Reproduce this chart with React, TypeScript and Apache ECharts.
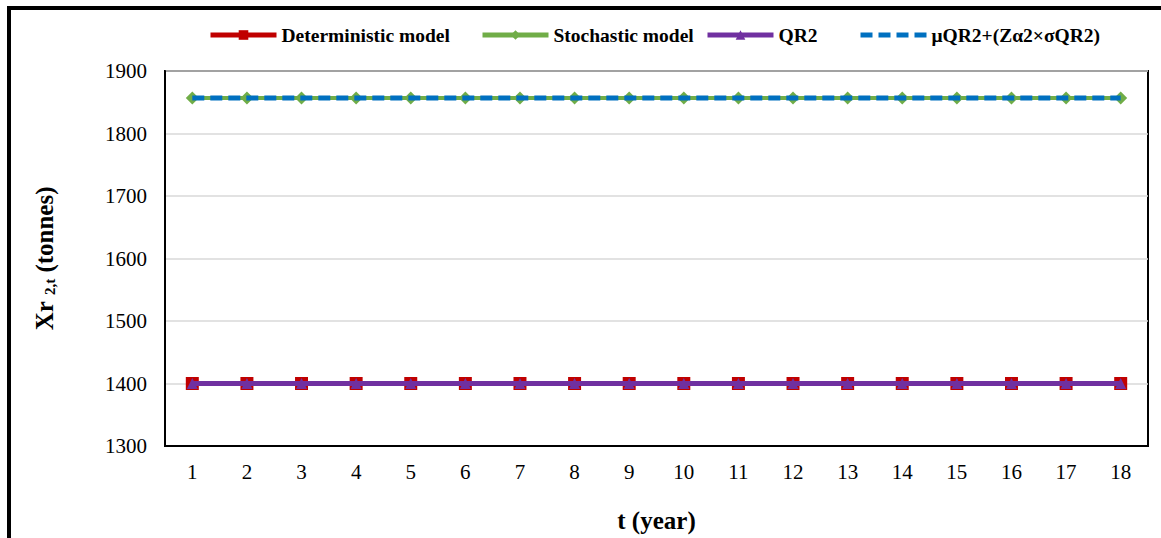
import React, { useEffect, useRef } from "react";
import * as echarts from "echarts";

const categories = ["1", "2", "3", "4", "5", "6", "7", "8", "9", "10", "11", "12", "13", "14", "15", "16", "17", "18"];
const deterministic = [1400, 1400, 1400, 1400, 1400, 1400, 1400, 1400, 1400, 1400, 1400, 1400, 1400, 1400, 1400, 1400, 1400, 1400];
const stochastic = [1857, 1857, 1857, 1857, 1857, 1857, 1857, 1857, 1857, 1857, 1857, 1857, 1857, 1857, 1857, 1857, 1857, 1857];
const qr2 = [1400, 1400, 1400, 1400, 1400, 1400, 1400, 1400, 1400, 1400, 1400, 1400, 1400, 1400, 1400, 1400, 1400, 1400];
const upperQR2 = [1857, 1857, 1857, 1857, 1857, 1857, 1857, 1857, 1857, 1857, 1857, 1857, 1857, 1857, 1857, 1857, 1857, 1857];
const seriesNames = ["Deterministic model", "Stochastic model", "QR2", "μQR2+(Zα2×σQR2)"];
const legendLefts = [208, 480, 705, 858];

const FONT = "'Liberation Serif', 'Times New Roman', serif";

export default function App() {
  const ref = useRef<HTMLDivElement>(null);
  useEffect(() => {
    if (!ref.current) return;
    const chart = echarts.init(ref.current, undefined, { renderer: "svg" });
    chart.setOption({
      animation: false,
      backgroundColor: "#fff",
      textStyle: { fontFamily: FONT },
      graphic: [
        { type: "rect", shape: { x: 7, y: 6, width: 1154, height: 4 }, style: { fill: "#000" } },
        { type: "rect", shape: { x: 7, y: 6, width: 4, height: 532 }, style: { fill: "#000" } },
      ],
      legend: seriesNames.map((n, i) => ({
        top: 25,
        left: legendLefts[i],
        padding: 0,
        itemWidth: 66,
        itemHeight: 12,
        lineStyle: { width: 5 },
        textStyle: { fontFamily: FONT, fontSize: 19.5, fontWeight: "bold", color: "#000" },
        data: [i === 3 ? { name: n, itemStyle: { color: "transparent", borderWidth: 0 } } : n],
      })),
      grid: {
        left: 165,
        right: 13,
        top: 71,
        bottom: 90,
        show: true,
        borderColor: "#000",
        borderWidth: 2,
      },
      xAxis: {
        type: "category",
        data: categories,
        boundaryGap: true,
        name: "t (year)",
        nameLocation: "middle",
        nameGap: 62,
        nameTextStyle: { fontFamily: FONT, fontSize: 25, fontWeight: "bold", color: "#000" },
        axisLine: { lineStyle: { color: "#000", width: 2 } },
        axisTick: { show: false },
        axisLabel: { fontFamily: FONT, fontSize: 21, color: "#000", margin: 15 },
      },
      yAxis: {
        type: "value",
        min: 1300,
        max: 1900,
        interval: 100,
        name: "{a|Xr }{b|2,t}{a| (tonnes)}",
        nameLocation: "middle",
        nameGap: 108,
        nameRotate: 90,
        nameTextStyle: {
          rich: {
            a: { fontFamily: FONT, fontSize: 25, fontWeight: "bold", color: "#000" },
            b: { fontFamily: FONT, fontSize: 15, fontWeight: "bold", color: "#000", verticalAlign: "bottom", padding: [9, 0, 0, 0] },
          },
        },
        axisLine: { show: true, lineStyle: { color: "#000", width: 2 } },
        axisTick: { show: false },
        axisLabel: { fontFamily: FONT, fontSize: 21, color: "#000", margin: 18, formatter: (v: number) => String(v) },
        splitLine: { lineStyle: { color: "#d9d9d9", width: 1.5 } },
      },
      series: [
        {
          name: seriesNames[0],
          type: "line",
          data: deterministic,
          symbol: "rect",
          symbolSize: 13,
          lineStyle: { color: "#c00000", width: 4 },
          itemStyle: { color: "#c00000" },
          z: 2,
        },
        {
          name: seriesNames[1],
          type: "line",
          data: stochastic,
          symbol: "diamond",
          symbolSize: 13,
          lineStyle: { color: "#70ad47", width: 4 },
          itemStyle: { color: "#70ad47" },
          z: 2,
        },
        {
          name: seriesNames[2],
          type: "line",
          data: qr2,
          symbol: "triangle",
          symbolSize: 11,
          lineStyle: { color: "#7030a0", width: 5 },
          itemStyle: { color: "#7030a0" },
          z: 3,
        },
        {
          name: seriesNames[3],
          type: "line",
          data: upperQR2,
          symbol: "none",
          lineStyle: { color: "#0070c0", width: 5, type: [12, 6] },
          itemStyle: { color: "#0070c0" },
          z: 3,
        },
      ],
    });
    return () => chart.dispose();
  }, []);
  return <div ref={ref} style={{ position: "absolute", left: 0, top: 0, width: 1161, height: 538 }} />;
}
